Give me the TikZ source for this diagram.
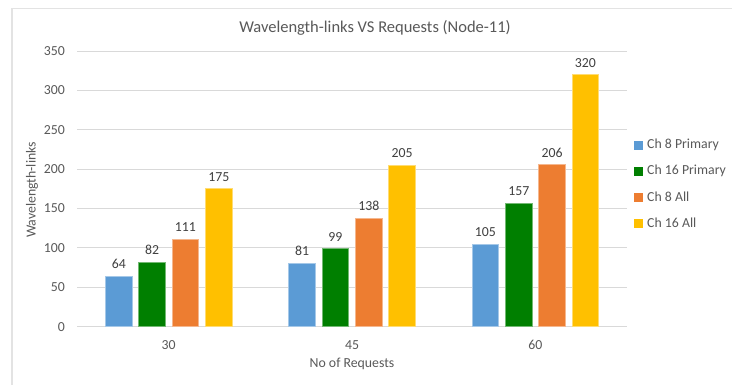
\documentclass[tikz,border=0pt]{standalone}
\usepackage{fontspec}
\setmainfont{Carlito}
\definecolor{txt}{HTML}{595959}
\definecolor{lbl}{HTML}{404040}
\definecolor{grid}{HTML}{D9D9D9}
\definecolor{frame}{HTML}{E3E3E3}
\definecolor{cA}{HTML}{5B9BD5}
\definecolor{cB}{HTML}{007F00}
\definecolor{cC}{HTML}{ED7D31}
\definecolor{cD}{HTML}{FFC000}
\tikzset{
  ticklbl/.style={text=txt,font=\fontsize{13.8}{15}\selectfont,inner sep=0pt},
  vallbl/.style={text=lbl,font=\fontsize{13.8}{15}\selectfont,inner sep=0pt},
  gridline/.style={draw=grid,line width=1pt},
  barbox/.style={line width=0.8pt},
}
\begin{document}
\begin{tikzpicture}[x=1pt,y=-1pt]
\useasboundingbox[fill=white] (0,0) rectangle (732,384);
% frame
\draw[frame,line width=1.2pt] (12,400) -- (12,8.5) -- (740,8.5);
% title
\node[text=txt,font=\fontsize{16.5}{18}\selectfont,inner sep=0pt] (title) at (375,28) {Wavelength-links VS Requests (Node-11)};
% gridlines and y ticks
\foreach \v in {0,50,...,350}{
  \pgfmathsetmacro{\yy}{326.7-\v*0.7877}
  \draw[gridline] (77,\yy) -- (627,\yy);
  \node[ticklbl,anchor=east] (yt\v) at (65,\yy) {\v};
}
% y title
\node[ticklbl,rotate=90] (ytitle) at (32,190) {Wavelength-links};
% bars
\def\bw{26.8}
\foreach \g/\lab/\a/\b/\c/\d in {0/30/64/82/111/175,1/45/81/99/138/205,2/60/105/157/206/320}{
  \pgfmathsetmacro{\cx}{77+183.333*(\g+0.5)}
  \foreach \j/\val/\col in {0/\a/cA,1/\b/cB,2/\c/cC,3/\d/cD}{
    \pgfmathsetmacro{\xl}{\cx-63.3+\j*33.33}
    \pgfmathsetmacro{\yt}{326.7-\val*0.7877}
    \fill[\col,draw=\col!55!white,barbox] (\xl,326.7) rectangle (\xl+\bw,\yt);
    \node[vallbl] (v\g\j) at (\xl+\bw/2,\yt-12) {\val};
  }
  \node[ticklbl] (xt\g) at (\cx,345) {\lab};
}
% x title
\node[ticklbl] (xtitle) at (352,364) {No of Requests};
% legend
\foreach \i/\col/\name in {0/cA/Ch 8 Primary,1/cB/Ch 16 Primary,2/cC/Ch 8 All,3/cD/Ch 16 All}{
  \pgfmathsetmacro{\ly}{145+\i*26}
  \fill[\col] (634,\ly-4.5) rectangle (643,\ly+4.5);
  \node[ticklbl,anchor=west] (leg\i) at (647,\ly) {\name};
}
\end{tikzpicture}
\end{document}
